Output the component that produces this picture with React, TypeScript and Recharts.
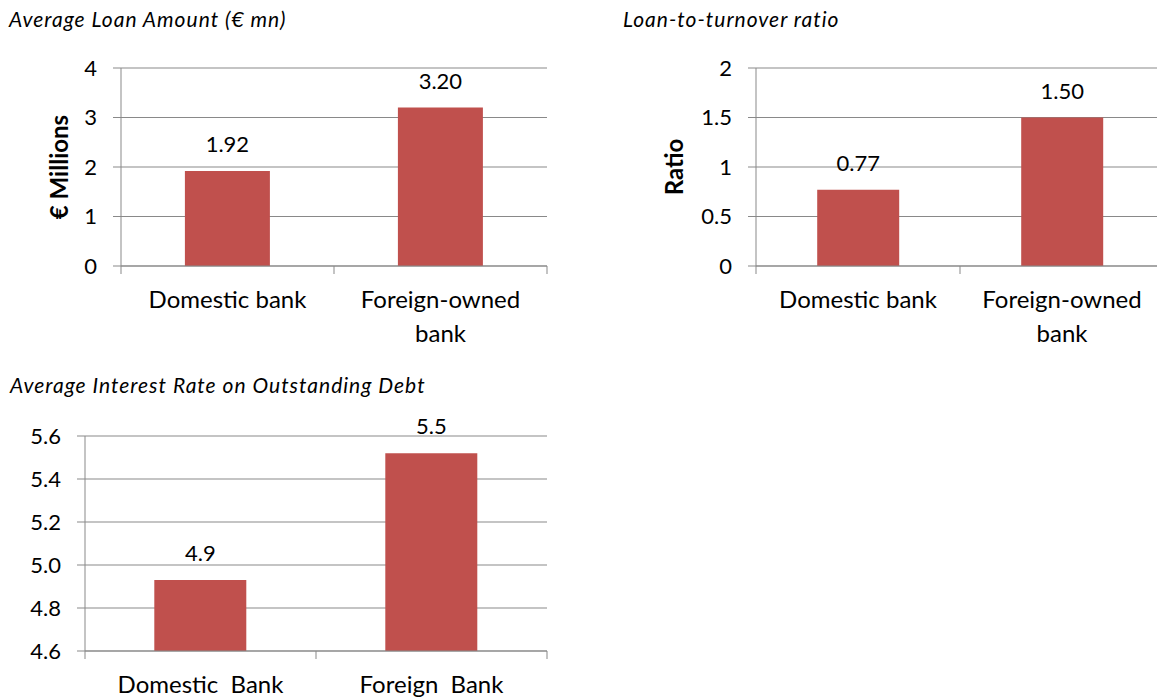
import React from 'react';
import { BarChart, Bar, XAxis, YAxis, CartesianGrid, LabelList } from 'recharts';

// values
const loanCategories = ['Domestic bank', 'Foreign-owned bank'];
const loanTickLines = [['Domestic bank'], ['Foreign-owned', 'bank']];
const loanAmounts = [1.92, 3.2];
const loanTicks = [0, 1, 2, 3, 4];

const ratioValues = [0.77, 1.5];
const ratioTicks = [0, 0.5, 1, 1.5, 2];

const rateCategories = ['Domestic  Bank', 'Foreign  Bank'];
const rateTickLines = [['Domestic  Bank'], ['Foreign  Bank']];
const rateValues = [4.93, 5.52];
const rateTicks = [4.6, 4.8, 5.0, 5.2, 5.4, 5.6];

const FONT = 'Lato, "Open Sans", sans-serif';
const BAR = '#C0504D';
const GRID = '#898989';

const CategoryTick = (props: any) => {
  const { x, y, payload, index, lines } = props;
  const half = payload.offset || 0;
  const rows: string[] = lines[index] || [String(payload.value)];
  return (
    <g>
      <line x1={x - half} x2={x - half} y1={y} y2={y + 8} stroke={GRID} />
      {index === lines.length - 1 && <line x1={x + half} x2={x + half} y1={y} y2={y + 8} stroke={GRID} />}
      <text x={x} y={y + 42} textAnchor="middle" fill="#000" fontSize={24} fontFamily={FONT} style={{ whiteSpace: 'pre' }}>
        {rows.map((r, i) => (
          <tspan key={i} x={x} dy={i === 0 ? 0 : 34}>{r}</tspan>
        ))}
      </text>
    </g>
  );
};

const Title = ({ text, left, top }: { text: string; left: number; top: number }) => (
  <div style={{ position: 'absolute', left, top, fontFamily: FONT, fontStyle: 'italic', fontSize: 21, letterSpacing: '1px', lineHeight: '21px', color: '#000', whiteSpace: 'nowrap' }}>
    {text}
  </div>
);

const tickStyle = { fontSize: 22, fill: '#000', fontFamily: FONT };

const SmallBarChart = ({ data, ticks, lines, width, height, margin, yWidth, xHeight, yLabel, yLabelDx, digits, domain }: any) => (
  <BarChart width={width} height={height} data={data} margin={margin} barCategoryGap="30%">
    <CartesianGrid vertical={false} stroke={GRID} strokeWidth={1} />
    <XAxis
      dataKey="name"
      height={xHeight}
      axisLine={{ stroke: GRID }}
      tickLine={false}
      tickSize={0}
      tickMargin={0}
      interval={0}
      tick={(p: any) => <CategoryTick {...p} lines={lines} />}
    />
    <YAxis
      width={yWidth}
      domain={domain}
      ticks={ticks}
      interval={0}
      allowDataOverflow
      axisLine={{ stroke: GRID }}
      tickLine={{ stroke: GRID }}
      tickSize={8}
      tickMargin={16}
      tick={tickStyle}
      tickFormatter={(v: number) => (digits === 1 ? v.toFixed(1) : String(v))}
      label={yLabel ? { value: yLabel, angle: -90, position: 'center', dx: yLabelDx, style: { fontFamily: FONT, fontWeight: 700, fontSize: 24, fill: '#000' } } : undefined}
    />
    <Bar dataKey="value" fill={BAR} isAnimationActive={false}>
      <LabelList
        dataKey="value"
        position="top"
        offset={19}
        fill="#000"
        fontSize={22}
        fontFamily={FONT}
        formatter={(v: any) => Number(v).toFixed(digits === 1 ? 1 : 2)}
      />
    </Bar>
  </BarChart>
);

export default function App() {
  const loanData = loanCategories.map((name, i) => ({ name, value: loanAmounts[i] }));
  const ratioData = loanCategories.map((name, i) => ({ name, value: ratioValues[i] }));
  const rateData = rateCategories.map((name, i) => ({ name, value: rateValues[i] }));

  return (
    <div style={{ position: 'absolute', left: 0, top: 0, width: 1157, height: 700, overflow: 'hidden', background: '#fff' }}>
      <Title text="Average Loan Amount (€ mn)" left={9} top={8} />
      <Title text="Loan-to-turnover ratio" left={623} top={8} />
      <Title text="Average Interest Rate on Outstanding Debt" left={10} top={374} />

      <div style={{ position: 'absolute', left: 0, top: 0 }}>
        <SmallBarChart
          data={loanData} ticks={loanTicks} lines={loanTickLines} domain={[0, 4]}
          width={560} height={350} margin={{ top: 68, right: 13, bottom: 0, left: 0 }}
          yWidth={121} xHeight={84} yLabel="€ Millions" yLabelDx={-1} digits={2}
        />
      </div>
      <div style={{ position: 'absolute', left: 600, top: 0 }}>
        <SmallBarChart
          data={ratioData} ticks={ratioTicks} lines={loanTickLines} domain={[0, 2]}
          width={600} height={350} margin={{ top: 68, right: 36, bottom: 0, left: 0 }}
          yWidth={156} xHeight={84} yLabel="Ratio" yLabelDx={-4} digits={2}
        />
      </div>
      <div style={{ position: 'absolute', left: 0, top: 360 }}>
        <SmallBarChart
          data={rateData} ticks={rateTicks} lines={rateTickLines} domain={[4.6, 5.6]}
          width={560} height={340} margin={{ top: 76, right: 13, bottom: 0, left: 0 }}
          yWidth={85} xHeight={49} digits={1}
        />
      </div>
    </div>
  );
}
